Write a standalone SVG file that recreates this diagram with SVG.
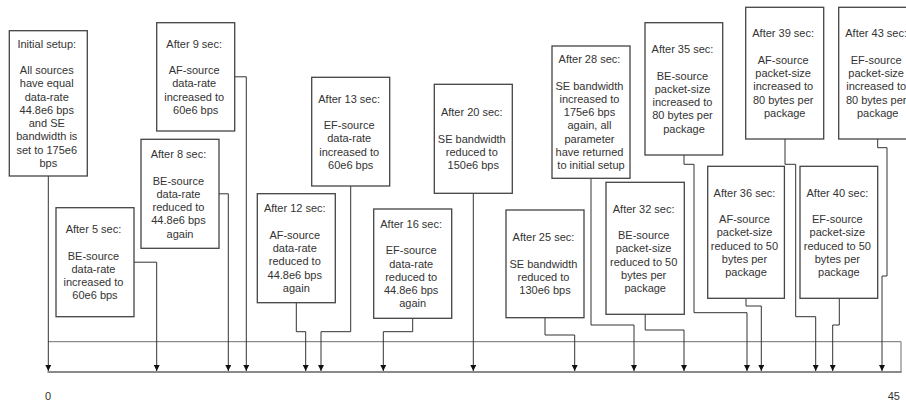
<svg xmlns="http://www.w3.org/2000/svg" width="906" height="403" viewBox="0 0 906 403">
  <style>
    .box { fill: #ffffff; stroke: #444444; stroke-width: 1.3; }
    .lbl { font-family: "Liberation Sans", Arial, sans-serif; font-size: 11px; fill: #333333; text-anchor: middle; }
    .wire { fill: none; stroke: #333333; stroke-width: 1; marker-end: url(#arr); }
    .axis-top { fill: none; stroke: #6e6e6e; stroke-width: 1; }
    .axis-base { fill: none; stroke: #8a8a8a; stroke-width: 2; }
    .tick { font-family: "Liberation Sans", Arial, sans-serif; font-size: 11px; fill: #333333; }
  </style>
  <defs>
    <marker id="arr" viewBox="0 0 6 6" refX="6" refY="3" markerWidth="6" markerHeight="6" markerUnits="userSpaceOnUse" orient="auto">
      <path d="M0,0 L6,3 L0,6 z" fill="#111111"/>
    </marker>
  </defs>

  <rect width="906" height="403" fill="#ffffff"/>

  <!-- time axis -->
  <g id="axis">
    <polyline class="axis-top" points="48,341.7 901,341.7 901,372.5"/>
    <line class="axis-base" x1="47.5" y1="372" x2="901.5" y2="372"/>
    <text class="tick" x="48" y="400" text-anchor="middle">0</text>
    <text class="tick" x="900" y="400" text-anchor="end">45</text>
  </g>

  <!-- connectors from each event box down to the axis -->
  <g id="connectors">
    <polyline class="wire" points="48.3,176 48.3,371"/>
    <polyline class="wire" points="234.7,76.8 246.3,76.8 246.3,371"/>
    <polyline class="wire" points="219,193.8 228.3,193.8 228.3,371"/>
    <polyline class="wire" points="134,262.2 156.7,262.2 156.7,371"/>
    <polyline class="wire" points="350.7,186 350.7,331.7 321,331.7 321,371"/>
    <polyline class="wire" points="296.3,302.7 296.3,331.7 305.7,331.7 305.7,371"/>
    <polyline class="wire" points="412.7,318.3 412.7,331.7 383.3,331.7 383.3,371"/>
    <polyline class="wire" points="473.3,193.3 473.3,371"/>
    <polyline class="wire" points="545,317.7 545,335 574.7,335 574.7,371"/>
    <polyline class="wire" points="591,178.3 591,325 634,325 634,371"/>
    <polyline class="wire" points="645.2,314.3 645.2,330 684,330 684,371"/>
    <polyline class="wire" points="684,155 684,164.3 694,164.3 694,312.7 747,312.7 747,371"/>
    <polyline class="wire" points="746,298.3 746,306 761.3,306 761.3,371"/>
    <polyline class="wire" points="785,139 785,164.3 795.7,164.3 795.7,316.7 815.7,316.7 815.7,371"/>
    <polyline class="wire" points="839.3,298.3 839.3,325 832.7,325 832.7,371"/>
    <polyline class="wire" points="877.7,139 877.7,147.7 887,147.7 887,276 882,276 882,371"/>
  </g>

  <!-- event boxes -->
  <g id="t0">
    <rect class="box" x="9.3" y="30.7" width="78" height="145.3"/>
    <text class="lbl" y="47.7">
      <tspan x="48.3">Initial setup:</tspan>
      <tspan x="48.3" dy="26.5">All sources</tspan>
      <tspan x="48.3" dy="13.25">have equal</tspan>
      <tspan x="48.3" dy="13.25">data-rate</tspan>
      <tspan x="48.3" dy="13.25">44.8e6 bps</tspan>
      <tspan x="48.3" dy="13.25">and SE</tspan>
      <tspan x="48.3" dy="13.25">bandwidth is</tspan>
      <tspan x="48.3" dy="13.25">set to 175e6</tspan>
      <tspan x="48.3" dy="13.25">bps</tspan>
    </text>
  </g>

  <g id="t5">
    <rect class="box" x="56" y="207.7" width="78" height="109"/>
    <text class="lbl" y="233.1">
      <tspan x="95">After 5 sec:</tspan>
      <tspan x="95" dy="26.5">BE-source</tspan>
      <tspan x="95" dy="13.25">data-rate</tspan>
      <tspan x="95" dy="13.25">increased to</tspan>
      <tspan x="95" dy="13.25">60e6 bps</tspan>
    </text>
  </g>

  <g id="t8">
    <rect class="box" x="141" y="139.3" width="78" height="109"/>
    <text class="lbl" y="158.05">
      <tspan x="180">After 8 sec:</tspan>
      <tspan x="180" dy="26.5">BE-source</tspan>
      <tspan x="180" dy="13.25">data-rate</tspan>
      <tspan x="180" dy="13.25">reduced to</tspan>
      <tspan x="180" dy="13.25">44.8e6 bps</tspan>
      <tspan x="180" dy="13.25">again</tspan>
    </text>
  </g>

  <g id="t9">
    <rect class="box" x="156.7" y="22.7" width="78" height="108.3"/>
    <text class="lbl" y="47.7">
      <tspan x="195.7">After 9 sec:</tspan>
      <tspan x="195.7" dy="26.5">AF-source</tspan>
      <tspan x="195.7" dy="13.25">data-rate</tspan>
      <tspan x="195.7" dy="13.25">increased to</tspan>
      <tspan x="195.7" dy="13.25">60e6 bps</tspan>
    </text>
  </g>

  <g id="t12">
    <rect class="box" x="257.3" y="193.7" width="78" height="109"/>
    <text class="lbl" y="212.45">
      <tspan x="296.3">After 12 sec:</tspan>
      <tspan x="296.3" dy="26.5">AF-source</tspan>
      <tspan x="296.3" dy="13.25">data-rate</tspan>
      <tspan x="296.3" dy="13.25">reduced to</tspan>
      <tspan x="296.3" dy="13.25">44.8e6 bps</tspan>
      <tspan x="296.3" dy="13.25">again</tspan>
    </text>
  </g>

  <g id="t13">
    <rect class="box" x="311.7" y="77.3" width="78" height="108.7"/>
    <text class="lbl" y="102.5">
      <tspan x="350.7">After 13 sec:</tspan>
      <tspan x="350.7" dy="26.5">EF-source</tspan>
      <tspan x="350.7" dy="13.25">data-rate</tspan>
      <tspan x="350.7" dy="13.25">increased to</tspan>
      <tspan x="350.7" dy="13.25">60e6 bps</tspan>
    </text>
  </g>

  <g id="t16">
    <rect class="box" x="373.7" y="209" width="78" height="109.3"/>
    <text class="lbl" y="227.9">
      <tspan x="412.7">After 16 sec:</tspan>
      <tspan x="412.7" dy="26.5">EF-source</tspan>
      <tspan x="412.7" dy="13.25">data-rate</tspan>
      <tspan x="412.7" dy="13.25">reduced to</tspan>
      <tspan x="412.7" dy="13.25">44.8e6 bps</tspan>
      <tspan x="412.7" dy="13.25">again</tspan>
    </text>
  </g>

  <g id="t20">
    <rect class="box" x="434.3" y="84.3" width="78" height="109"/>
    <text class="lbl" y="116.3">
      <tspan x="473.3">After 20 sec:</tspan>
      <tspan x="473.3" dy="26.5">SE bandwidth</tspan>
      <tspan x="473.3" dy="13.25">reduced to</tspan>
      <tspan x="473.3" dy="13.25">150e6 bps</tspan>
    </text>
  </g>

  <g id="t25">
    <rect class="box" x="506" y="210" width="78" height="107.7"/>
    <text class="lbl" y="241.35">
      <tspan x="545">After 25 sec:</tspan>
      <tspan x="545" dy="26.5">SE bandwidth</tspan>
      <tspan x="545" dy="13.25">reduced to</tspan>
      <tspan x="545" dy="13.25">130e6 bps</tspan>
    </text>
  </g>

  <g id="t28">
    <rect class="box" x="552" y="46" width="78" height="132.3"/>
    <text class="lbl" y="63.15">
      <tspan x="591">After 28 sec:</tspan>
      <tspan x="591" dy="26.5">SE bandwidth</tspan>
      <tspan x="591" dy="13.25">increased to</tspan>
      <tspan x="591" dy="13.25">175e6 bps</tspan>
      <tspan x="591" dy="13.25">again, all</tspan>
      <tspan x="591" dy="13.25">parameter</tspan>
      <tspan x="591" dy="13.25">have returned</tspan>
      <tspan x="591" dy="13.25">to initial setup</tspan>
    </text>
  </g>

  <g id="t32">
    <rect class="box" x="606" y="182.3" width="78.3" height="132"/>
    <text class="lbl" y="212.55">
      <tspan x="645.2">After 32 sec:</tspan>
      <tspan x="645.2" dy="26.5">BE-source</tspan>
      <tspan x="645.2" dy="13.25">packet-size</tspan>
      <tspan x="645.2" dy="13.25">reduced to 50</tspan>
      <tspan x="645.2" dy="13.25">bytes per</tspan>
      <tspan x="645.2" dy="13.25">package</tspan>
    </text>
  </g>

  <g id="t35">
    <rect class="box" x="645" y="22.7" width="77.7" height="132.3"/>
    <text class="lbl" y="53.1">
      <tspan x="684">After 35 sec:</tspan>
      <tspan x="684" dy="26.5">BE-source</tspan>
      <tspan x="684" dy="13.25">packet-size</tspan>
      <tspan x="684" dy="13.25">increased to</tspan>
      <tspan x="684" dy="13.25">80 bytes per</tspan>
      <tspan x="684" dy="13.25">package</tspan>
    </text>
  </g>

  <g id="t36">
    <rect class="box" x="707.7" y="166.3" width="76.7" height="132"/>
    <text class="lbl" y="196.55">
      <tspan x="746">After 36 sec:</tspan>
      <tspan x="746" dy="26.5">AF-source</tspan>
      <tspan x="746" dy="13.25">packet-size</tspan>
      <tspan x="746" dy="13.25">reduced to 50</tspan>
      <tspan x="746" dy="13.25">bytes per</tspan>
      <tspan x="746" dy="13.25">package</tspan>
    </text>
  </g>

  <g id="t39">
    <rect class="box" x="745.7" y="7.3" width="78" height="131.7"/>
    <text class="lbl" y="37.4">
      <tspan x="784.7">After 39 sec:</tspan>
      <tspan x="784.7" dy="26.5">AF-source</tspan>
      <tspan x="784.7" dy="13.25">packet-size</tspan>
      <tspan x="784.7" dy="13.25">increased to</tspan>
      <tspan x="784.7" dy="13.25">80 bytes per</tspan>
      <tspan x="784.7" dy="13.25">package</tspan>
    </text>
  </g>

  <g id="t40">
    <rect class="box" x="800" y="166.3" width="77.7" height="132"/>
    <text class="lbl" y="196.55">
      <tspan x="838.9">After 40 sec:</tspan>
      <tspan x="838.9" dy="26.5">EF-source</tspan>
      <tspan x="838.9" dy="13.25">packet-size</tspan>
      <tspan x="838.9" dy="13.25">reduced to 50</tspan>
      <tspan x="838.9" dy="13.25">bytes per</tspan>
      <tspan x="838.9" dy="13.25">package</tspan>
    </text>
  </g>

  <g id="t43">
    <rect class="box" x="838.7" y="7.3" width="78" height="131.7"/>
    <text class="lbl" y="37.4">
      <tspan x="877.7">After 43 sec:</tspan>
      <tspan x="877.7" dy="26.5">EF-source</tspan>
      <tspan x="877.7" dy="13.25">packet-size</tspan>
      <tspan x="877.7" dy="13.25">increased to</tspan>
      <tspan x="877.7" dy="13.25">80 bytes per</tspan>
      <tspan x="877.7" dy="13.25">package</tspan>
    </text>
  </g>
</svg>
